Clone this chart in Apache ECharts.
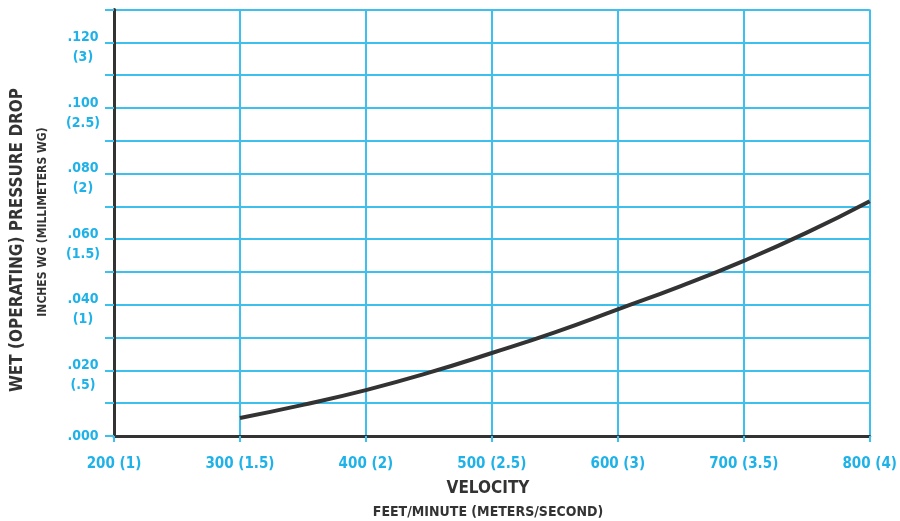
<!DOCTYPE html>
<html>
<head>
<meta charset="utf-8">
<script src="https://cdn.jsdelivr.net/npm/echarts@6/dist/echarts.min.js"></script>
<style>
html,body{margin:0;padding:0;background:#fff;}
#chart{width:900px;height:521px;}
</style>
</head>
<body>
<div id="chart"></div>
<script>
// Data
const velocity = [300, 350, 400, 450, 500, 550, 600, 650, 700, 750, 800];
const pressureDrop = [0.0055, 0.0095, 0.0140, 0.0193, 0.0253, 0.0316, 0.0386, 0.0457, 0.0534, 0.0620, 0.0716];
const xTickLabels = {200: '200 (1)', 300: '300 (1.5)', 400: '400 (2)', 500: '500 (2.5)', 600: '600 (3)', 700: '700 (3.5)', 800: '800 (4)'};
const yTickLabels = {0: '.000', 2: '.020\n(.5)', 4: '.040\n(1)', 6: '.060\n(1.5)', 8: '.080\n(2)', 10: '.100\n(2.5)', 12: '.120\n(3)'};

const BLUE = '#1fb2e8';
const GRID = '#3ec0ee';
const DARK = '#333333';
const FONT = '"DejaVu Sans Condensed", "DejaVu Sans", sans-serif';

const chart = echarts.init(document.getElementById('chart'), null, {renderer: 'canvas'});
chart.setOption({
  animation: false,
  backgroundColor: '#fff',
  grid: {left: 114, right: 30, top: 9.6, bottom: 85, containLabel: false},
  xAxis: {
    type: 'value', min: 200, max: 800, interval: 100,
    axisLine: {show: true, onZero: false, lineStyle: {color: DARK, width: 3}},
    axisTick: {show: true, length: 6, lineStyle: {color: GRID, width: 2}},
    splitLine: {show: true, lineStyle: {color: GRID, width: 2}},
    axisLabel: {
      margin: 21, color: BLUE, fontFamily: FONT, fontWeight: 'bold', fontSize: 15,
      formatter: v => xTickLabels[Math.round(v)] || ''
    }
  },
  yAxis: {
    type: 'value', min: 0, max: 0.13, interval: 0.01,
    axisLine: {show: true, onZero: false, lineStyle: {color: DARK, width: 3}},
    axisTick: {show: true, length: 9, lineStyle: {color: GRID, width: 2}},
    splitLine: {show: true, lineStyle: {color: GRID, width: 2}},
    axisLabel: {
      margin: 31, align: 'center', color: BLUE, fontFamily: FONT, fontWeight: 'bold',
      fontSize: 14, lineHeight: 20,
      formatter: v => {
        const k = Math.round(v * 100);
        if (k === 0) return '{z|.000}';
        return yTickLabels[k] ? '{a|' + yTickLabels[k].replace('\n', '}\n{a|') + '}' : '';
      },
      rich: {
        a: {color: BLUE, fontFamily: FONT, fontWeight: 'bold', fontSize: 14, lineHeight: 20, padding: [10, 0, 0, 0]},
        z: {color: BLUE, fontFamily: FONT, fontWeight: 'bold', fontSize: 14, lineHeight: 19}
      }
    }
  },
  series: [{
    type: 'line',
    data: velocity.map((v, i) => [v, pressureDrop[i]]),
    smooth: true,
    showSymbol: false,
    lineStyle: {color: DARK, width: 4},
    z: 5
  }],
  graphic: [
    {type: 'text', style: {text: 'VELOCITY', fill: DARK, font: 'bold 17px ' + FONT, textAlign: 'center', textVerticalAlign: 'middle'}, x: 488, y: 489},
    {type: 'text', style: {text: 'FEET/MINUTE (METERS/SECOND)', fill: DARK, font: 'bold 14px ' + FONT, textAlign: 'center', textVerticalAlign: 'middle'}, x: 488, y: 512},
    {type: 'text', rotation: Math.PI / 2, style: {text: 'WET (OPERATING) PRESSURE DROP', fill: DARK, font: 'bold 17px ' + FONT, textAlign: 'center', textVerticalAlign: 'middle'}, x: 18, y: 240},
    {type: 'text', rotation: Math.PI / 2, style: {text: 'INCHES WG (MILLIMETERS WG)', fill: DARK, font: 'bold 12px ' + FONT, textAlign: 'center', textVerticalAlign: 'middle'}, x: 43, y: 222}
  ]
});
</script>
</body>
</html>
